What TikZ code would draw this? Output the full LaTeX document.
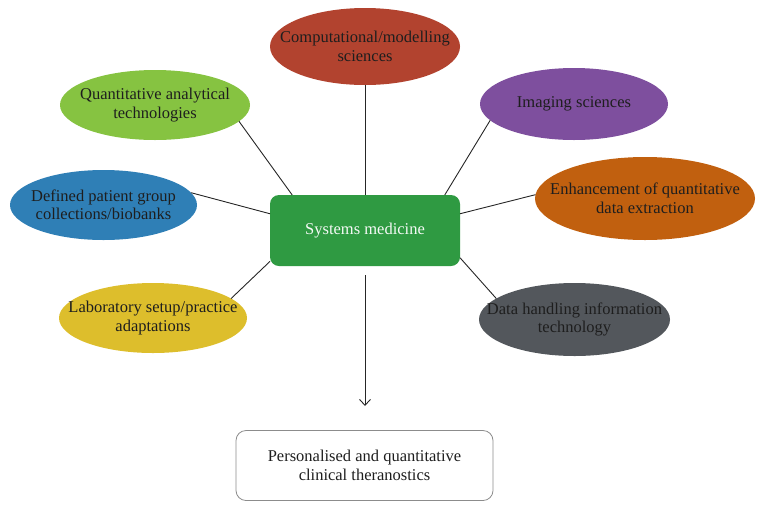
\documentclass[tikz,border=0pt]{standalone}
\usepackage{fontspec}
\setmainfont{Liberation Serif}
\usetikzlibrary{shapes.geometric,arrows.meta}
\definecolor{cRed}{HTML}{B2432F}
\definecolor{cLime}{HTML}{86C341}
\definecolor{cBlue}{HTML}{2F7FB6}
\definecolor{cPurple}{HTML}{7E4F9E}
\definecolor{cOrange}{HTML}{C1600F}
\definecolor{cYellow}{HTML}{DDBE2C}
\definecolor{cGrey}{HTML}{53575C}
\definecolor{cGreen}{HTML}{2F9A42}
\definecolor{cText}{HTML}{1E1E1E}
\begin{document}
\begin{tikzpicture}[x=1pt,y=-1pt,
  font=\fontsize{16.5}{18.5}\selectfont,
  ell/.style={ellipse, draw=none, inner sep=0pt, outer sep=0pt},
  lab/.style={align=center, text=cText, inner sep=0pt},
  link/.style={line width=0.9pt, draw=black!85}]
\useasboundingbox (0,0) rectangle (767,512);
% centre
\node[rectangle, rounded corners=9pt, fill=cGreen, minimum width=190pt, minimum height=71pt,
      inner sep=0pt, outer sep=0pt, text=white!95!cGreen] (S) at (365,230.5) {Systems medicine};
% ellipses
\node[ell, fill=cRed, minimum width=190pt, minimum height=77pt,
      label={[lab]center:Computational/modelling\\sciences}] (C) at (365,46.5) {};
\node[ell, fill=cLime, minimum width=190pt, minimum height=70pt,
      label={[lab]center:Quantitative analytical\\technologies}] (Q) at (155,105) {};
\node[ell, fill=cBlue, minimum width=187pt, minimum height=70pt,
      label={[lab]center:Defined patient group\\collections/biobanks}] (D) at (103.5,205) {};
\node[ell, fill=cPurple, minimum width=188pt, minimum height=72pt,
      label={[lab]center:Imaging sciences}] (I) at (574,104) {};
\node[ell, fill=cOrange, minimum width=220pt, minimum height=83pt,
      label={[lab]center:Enhancement of quantitative\\data extraction}] (E) at (645,198.5) {};
\node[ell, fill=cYellow, minimum width=188pt, minimum height=70pt,
      label={[lab]center:Laboratory setup/practice\\adaptations}] (L) at (153,318) {};
\node[ell, fill=cGrey, minimum width=191pt, minimum height=73pt,
      label={[lab]center:Data handling information\\technology}] (H) at (574.5,319.5) {};
% bottom box
\node[rectangle, rounded corners=10pt, draw=black!45, line width=0.8pt, fill=white,
      minimum width=257pt, minimum height=70pt, inner sep=0pt, align=center, text=cText]
      (B) at (364.5,465.5) {Personalised and quantitative\\clinical theranostics};
% connectors
\draw[link] (C.south) -- (S.north);
\draw[link] (Q.-11) -- (S.154);
\draw[link] (D.8) -- (S.170);
\draw[link] (I.191) -- (S.24);
\draw[link] (E.178) -- (S.10.4);
\draw[link] (L.14) -- (S.198);
\draw[link] (H.165.7) -- (S.-16.6);
\coordinate (a1) at (365,275);
\coordinate (a2) at (365,406);
\draw[link, -{Straight Barb[length=6pt,width=11pt,line width=0.9pt]}] (a1) -- (a2);
\end{tikzpicture}
\end{document}
